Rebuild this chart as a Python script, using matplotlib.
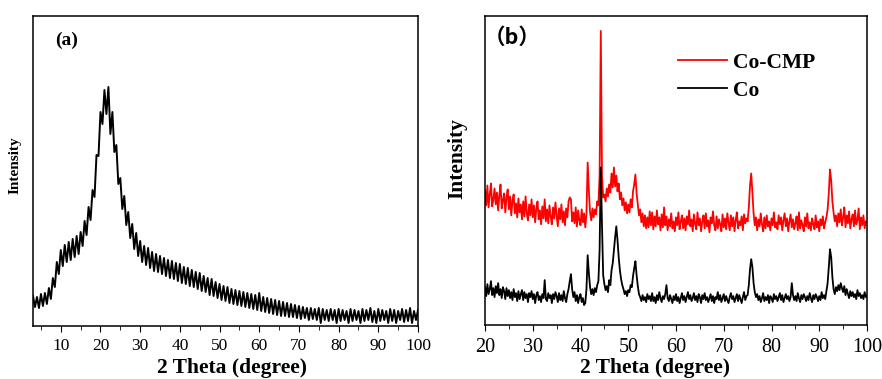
import numpy as np
import matplotlib.pyplot as plt
from matplotlib.ticker import MultipleLocator

plt.rcParams['font.family'] = 'Liberation Serif'

# panel (a): 2 theta from 3 to 100, step 0.5
intensity_a = [
    30, 19, 29, 18, 32, 20, 33, 22, 38, 27, 48, 39,
    64, 52, 76, 60, 81, 64, 84, 66, 87, 69, 90, 72,
    94, 80, 105, 91, 119, 106, 136, 129, 171, 170, 214, 202,
    236, 212, 239, 192, 214, 174, 181, 142, 148, 117, 130, 101,
    114, 88, 102, 77, 93, 70, 85, 64, 80, 61, 78, 58,
    74, 55, 72, 54, 70, 52, 68, 50, 66, 48, 65, 47,
    63, 45, 62, 43, 59, 42, 58, 40, 56, 39, 54, 37,
    53, 35, 50, 34, 48, 31, 47, 30, 44, 28, 42, 26,
    40, 25, 39, 23, 37, 22, 36, 21, 35, 20, 34, 19,
    33, 18, 32, 17, 31, 16, 33, 15, 29, 14, 28, 13,
    27, 12, 26, 11, 25, 10, 24, 10, 23, 9, 22, 9,
    21, 8, 20, 7, 19, 8, 18, 6, 18, 7, 17, 6,
    18, 3, 17, 6, 16, 5, 17, 6, 16, 3, 17, 5,
    16, 6, 15, 3, 17, 5, 16, 6, 15, 3, 17, 5,
    16, 6, 18, 4, 15, 3, 17, 5, 16, 6, 15, 3,
    17, 5, 16, 3, 15, 6, 17, 4, 16, 5, 18, 3,
    15, 6, 16,
]
two_theta_a = np.linspace(3, 100, len(intensity_a))

# panel (b): 2 theta from 20 to 100, step 0.25
co_cmp = [
    135, 120, 140, 118, 131, 142, 119, 126, 137, 121, 133, 115,
    130, 141, 117, 125, 132, 113, 128, 136, 116, 129, 110, 125,
    131, 112, 122, 108, 127, 113, 121, 106, 124, 109, 129, 112,
    105, 121, 110, 126, 108, 120, 103, 117, 124, 106, 115, 101,
    119, 107, 126, 104, 116, 102, 120, 109, 101, 118, 107, 123,
    110, 99, 117, 106, 121, 103, 114, 100, 117, 108, 124, 128,
    126, 104, 113, 102, 118, 99, 115, 105, 100, 116, 103, 112,
    98, 112, 163, 135, 113, 105, 117, 108, 116, 111, 124, 120,
    150, 295, 150, 128, 131, 124, 137, 129, 141, 133, 152, 138,
    158, 139, 150, 134, 142, 126, 133, 120, 127, 115, 123, 112,
    121, 113, 126, 118, 134, 141, 151, 132, 121, 110, 116, 103,
    112, 99, 110, 97, 108, 98, 114, 100, 113, 96, 109, 99,
    115, 101, 108, 95, 111, 98, 118, 100, 109, 95, 106, 99,
    112, 97, 104, 94, 108, 100, 113, 96, 104, 110, 97, 107,
    95, 109, 101, 115, 99, 106, 94, 111, 102, 96, 113, 100,
    107, 94, 104, 110, 97, 112, 99, 105, 93, 108, 102, 114,
    100, 95, 109, 97, 106, 101, 94, 111, 98, 107, 96, 112,
    103, 95, 110, 99, 108, 94, 105, 113, 97, 104, 100, 109,
    95, 111, 102, 107, 104, 118, 140, 152, 133, 112, 100, 108,
    95, 106, 99, 112, 101, 94, 108, 97, 110, 99, 104, 95,
    107, 100, 113, 98, 103, 96, 110, 101, 108, 95, 105, 112,
    99, 107, 94, 104, 111, 98, 106, 96, 102, 109, 95, 113,
    97, 105, 100, 94, 108, 99, 112, 97, 103, 95, 107, 101,
    96, 110, 98, 104, 94, 106, 100, 109, 97, 103, 108, 116,
    132, 156, 145, 124, 113, 104, 110, 99, 112, 103, 116, 100,
    108, 118, 98, 110, 102, 114, 97, 106, 111, 99, 115, 101,
    105, 117, 96, 108, 100, 110, 97, 104, 103,
]
co = [
    38, 29, 41, 31, 36, 44, 30, 37, 28, 39, 32, 42,
    30, 36, 27, 38, 34, 26, 37, 29, 35, 27, 33, 25,
    36, 28, 32, 24, 34, 26, 31, 35, 25, 33, 27, 31,
    23, 32, 28, 34, 26, 31, 22, 30, 33, 25, 29, 23,
    31, 27, 45, 26, 24, 32, 27, 30, 22, 31, 26, 33,
    29, 23, 32, 25, 30, 24, 34, 27, 23, 31, 36, 44,
    51, 36, 28, 33, 24, 30, 22, 28, 31, 23, 27, 20,
    22, 36, 70, 52, 38, 31, 36, 30, 37, 33, 40, 44,
    75, 158, 100, 50, 41, 35, 39, 33, 45, 40, 55, 62,
    75, 88, 99, 85, 68, 55, 46, 40, 36, 31, 34, 29,
    35, 33, 40, 38, 49, 57, 64, 50, 39, 31, 28, 24,
    30, 25, 28, 23, 31, 26, 29, 24, 32, 24, 28, 22,
    30, 25, 33, 27, 23, 29, 26, 31, 40, 27, 24, 30,
    26, 22, 29, 25, 31, 24, 28, 22, 27, 32, 25, 29,
    23, 28, 33, 26, 30, 24, 27, 32, 25, 29, 23, 31,
    28, 22, 30, 26, 32, 25, 28, 23, 27, 31, 24, 29,
    22, 28, 26, 33, 25, 30, 23, 27, 31, 24, 29, 25,
    22, 28, 32, 26, 29, 23, 27, 31, 24, 30, 26, 22,
    28, 33, 25, 29, 30, 40, 56, 66, 58, 42, 33, 28,
    31, 25, 29, 23, 27, 32, 24, 28, 25, 30, 22, 29,
    27, 23, 31, 26, 29, 24, 28, 32, 25, 30, 23, 27,
    31, 26, 29, 24, 28, 42, 30, 25, 29, 24, 32, 27,
    23, 30, 26, 31, 28, 24, 29, 25, 32, 27, 23, 30,
    26, 31, 28, 24, 29, 25, 33, 27, 30, 26, 34, 42,
    58, 76, 68, 48, 36, 31, 38, 34, 40, 35, 42, 37,
    33, 39, 30, 36, 31, 27, 34, 29, 33, 28, 31, 26,
    35, 29, 32, 27, 30, 26, 33, 28, 29,
]
two_theta_b = np.linspace(20, 100, len(co))

fig = plt.figure(figsize=(8.82, 3.79), dpi=100)
ax1 = fig.add_axes([33/882, 53/379, 385/882, 310/379])
ax2 = fig.add_axes([485/882, 54/379, 382/882, 309/379])

ax1.plot(two_theta_a, intensity_a, color='black', lw=1.4)
ax2.plot(two_theta_b, co_cmp, color='#ff0000', lw=1.3, label='Co-CMP')
ax2.plot(two_theta_b, co, color='black', lw=1.3, label='Co')

ax1.set_xlim(3, 100)
ax2.set_xlim(20, 100)
for ax, size in ((ax1, 12.5), (ax2, 14.5)):
    ax.set_ylim(0, 310)
    ax.set_yticks([])
    ax.xaxis.set_major_locator(MultipleLocator(10))
    ax.xaxis.set_minor_locator(MultipleLocator(5))
    ax.tick_params(axis='x', which='both', direction='out', labelsize=size, pad=5)
    ax.tick_params(axis='x', which='major', length=4)
    ax.tick_params(axis='x', which='minor', length=3)
    for s in ax.spines.values():
        s.set_linewidth(1.1)

fig.text(232/882, 5.5/379, '2 Theta (degree)', ha='center', va='baseline',
         fontsize=15.5, fontweight='bold')
fig.text(655/882, 5.5/379, '2 Theta (degree)', ha='center', va='baseline',
         fontsize=15.5, fontweight='bold')
fig.text(15.5/882, 1 - 165/379, 'Intensity', rotation=90, ha='center', va='center',
         fontsize=11, fontweight='bold')
fig.text(457.5/882, 1 - 159/379, 'Intensity', rotation=90, ha='center', va='center',
         fontsize=15.5, fontweight='bold')

ax1.text(0.057, 0.92, '(a)', transform=ax1.transAxes, ha='left', va='center',
         fontsize=14, fontweight='bold')
ax2.text(-0.002, 0.932, '（b）', transform=ax2.transAxes, ha='left', va='center',
         fontsize=15.5, fontweight='bold', family=['Noto Sans CJK SC', 'DejaVu Sans'])

ax2.legend(loc='upper left', bbox_to_anchor=(0.505, 0.882), frameon=False,
           borderpad=0, borderaxespad=0, handlelength=2.28, handletextpad=0.3,
           labelspacing=0.39, prop={'family': 'Liberation Serif', 'weight': 'bold', 'size': 15.5})

fig.savefig('out.png', dpi=100)
